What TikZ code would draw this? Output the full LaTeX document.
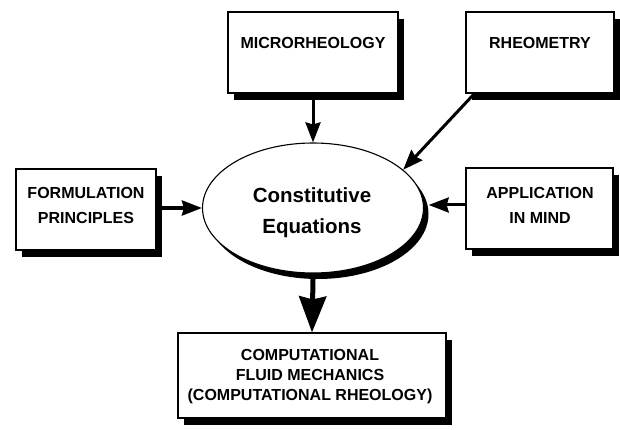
\documentclass[tikz,border=0pt]{standalone}
\usepackage{fontspec}
\setmainfont{Liberation Sans}
\usetikzlibrary{shadows,arrows.meta,shapes.geometric}
\begin{document}
\begin{tikzpicture}[x=1pt,y=-1pt,
  box/.style={draw=black, line width=1.1pt, fill=white, rectangle, inner sep=0pt,
    drop shadow={shadow xshift=6pt, shadow yshift=-7pt, fill=black, opacity=1}},
  lbl/.style={font=\bfseries\fontsize{16}{25}\selectfont, align=center, inner sep=0pt},
  arr/.style={line width=3pt, -{Stealth[length=20pt,width=15pt,inset=2pt]}},
  bigarr/.style={line width=5pt, -{Stealth[length=36pt,width=27pt,inset=3pt]}}]
\useasboundingbox (0,0) rectangle (620,430);
\fill[white] (0,0) rectangle (620,430);
% boxes
\node[box, minimum width=170pt, minimum height=81pt] (micro) at (313,52.5) {};
\node[lbl] (microt) at (313,43) {MICRORHEOLOGY};
\node[box, minimum width=148pt, minimum height=81pt] (rheo) at (540,52.5) {};
\node[lbl] (rheot) at (540,43) {RHEOMETRY};
\node[box, minimum width=140pt, minimum height=81pt] (form) at (86,209.5) {};
\node[lbl] (formt) at (86,205.5) {FORMULATION\\PRINCIPLES};
\node[box, minimum width=147pt, minimum height=81pt] (app) at (539.5,208.5) {};
\node[lbl] (appt) at (540,205) {APPLICATION\\IN MIND};
\node[box, minimum width=268pt, minimum height=85pt] (bot) at (312,375.5) {};
\node[lbl, font=\bfseries\fontsize{16}{20}\selectfont] (bott) at (310,377)
  {COMPUTATIONAL\\FLUID MECHANICS\\(COMPUTATIONAL RHEOLOGY)};
% ellipse
\node[ellipse, fill=black, minimum width=221pt, minimum height=130pt, inner sep=0pt] (ces) at (318,214) {};
\node[ellipse, draw=black, line width=1.1pt, fill=white, minimum width=221pt, minimum height=130pt, inner sep=0pt] (ce) at (313,208) {};
\node[lbl, font=\bfseries\fontsize{20.5}{31}\selectfont] (cet) at (312,212.5) {Constitutive\\Equations};
% connectors
\draw[arr] (micro.south) -- (ce.north);
\draw[arr] ([xshift=9pt]rheo.south west) -- (ce.23);
\draw[arr, line width=3.5pt] (form.east |- ce.west) -- (ce.west);
\draw[arr] (app.west |- 0,205) -- (ces.east |- 0,205);
\draw[bigarr] (ces.south -| ce.south) -- (bot.north);
\end{tikzpicture}
\end{document}
